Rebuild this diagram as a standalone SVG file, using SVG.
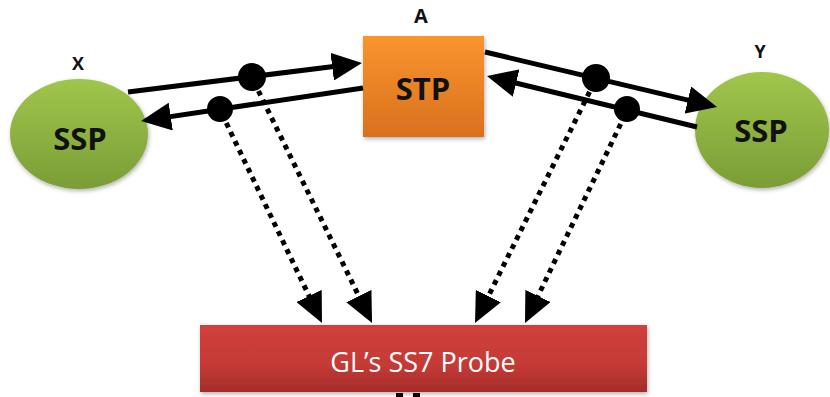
<svg xmlns="http://www.w3.org/2000/svg" width="830" height="397" viewBox="0 0 830 397">
<style>
.lbl{font-family:"Open Sans","Liberation Sans",sans-serif;font-weight:bold;fill:#111;text-anchor:middle}
.solid{stroke:#000;stroke-width:5;fill:none;marker-end:url(#ah)}
.dot{stroke:#000;stroke-width:5;stroke-dasharray:5 5;fill:none;marker-end:url(#ah)}
.tap{fill:#000}
</style>
<defs>
<linearGradient id="gGreen" x1="0" y1="0" x2="0" y2="1"><stop offset="0" stop-color="#A0C64C"/><stop offset="1" stop-color="#7A9D36"/></linearGradient>
<linearGradient id="gOrange" x1="0" y1="0" x2="0" y2="1"><stop offset="0" stop-color="#F9952F"/><stop offset="1" stop-color="#D8711E"/></linearGradient>
<linearGradient id="gRed" x1="0" y1="0" x2="0" y2="1"><stop offset="0" stop-color="#D0403B"/><stop offset="0.6" stop-color="#C43A36"/><stop offset="1" stop-color="#A42C29"/></linearGradient>
<filter id="sh" x="-10%" y="-10%" width="130%" height="130%"><feDropShadow dx="1" dy="2" stdDeviation="2" flood-color="#000" flood-opacity="0.3"/></filter>
<marker id="ah" viewBox="0 0 30 28" refX="24" refY="14" markerWidth="30" markerHeight="28" markerUnits="userSpaceOnUse" orient="auto"><path d="M0,0 L30,14 L0,28 z" fill="#000"/></marker>
</defs>
<g id="node-X">
<ellipse cx="79" cy="134" rx="69" ry="55" fill="url(#gGreen)" filter="url(#sh)"/>
<text class="lbl" x="80" y="150" font-size="31">SSP</text>
<text class="lbl" x="78" y="70" font-size="18">X</text>
</g>
<g id="node-A">
<rect x="363" y="36" width="121" height="101" fill="url(#gOrange)" filter="url(#sh)"/>
<text class="lbl" x="423" y="100" font-size="31">STP</text>
<text class="lbl" x="421" y="23" font-size="20">A</text>
</g>
<g id="node-Y">
<ellipse cx="762" cy="130" rx="67" ry="58" fill="url(#gGreen)" filter="url(#sh)"/>
<text class="lbl" x="761" y="142" font-size="31">SSP</text>
<text class="lbl" x="760" y="58" font-size="18">Y</text>
</g>
<g id="node-probe">
<rect x="200" y="325" width="447" height="67" fill="url(#gRed)" filter="url(#sh)"/>
<text x="423" y="372" font-family="'Open Sans','Liberation Sans',sans-serif" font-size="27" fill="#fff" text-anchor="middle">GL’s SS7 Probe</text>
</g>
<g id="connectors">
<line class="solid" x1="128" y1="92" x2="356" y2="63.7"/>
<line class="solid" x1="363" y1="88" x2="147" y2="120.1"/>
<line class="solid" x1="485" y1="52" x2="711.2" y2="105.6"/>
<line class="solid" x1="697" y1="127" x2="492.8" y2="77.4"/>
<line class="dot" x1="222" y1="114" x2="319.4" y2="317.6"/>
<line class="dot" x1="254" y1="82" x2="369.4" y2="317.6"/>
<line class="dot" x1="594" y1="83" x2="477.7" y2="317.6"/>
<line class="dot" x1="625" y1="115" x2="527.6" y2="317.6"/>
<circle class="tap" cx="252" cy="77" r="14"/>
<circle class="tap" cx="220" cy="109" r="13"/>
<circle class="tap" cx="596" cy="78" r="14"/>
<circle class="tap" cx="627" cy="109" r="13"/>
<rect x="396" y="393" width="7" height="4" fill="#000"/>
<rect x="413" y="393" width="7" height="4" fill="#000"/>
</g>
</svg>
